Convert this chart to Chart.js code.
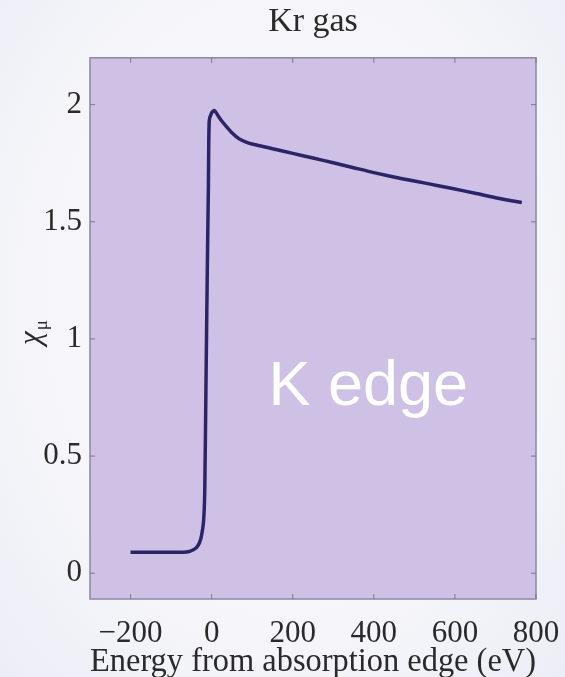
<!DOCTYPE html>
<html>
<head>
<meta charset="utf-8">
<title>Kr gas</title>
<script src="https://cdn.jsdelivr.net/npm/chart.js@4.4.1/dist/chart.umd.min.js"></script>
<style>
  html, body { margin: 0; padding: 0; }
  body {
    width: 565px; height: 677px; overflow: hidden;
    background: radial-gradient(ellipse at 50% 45%, #fbfbfd 0%, #f6f6fa 60%, #eceef6 100%);
  }
  #wrap { position: relative; width: 565px; height: 677px; }
</style>
</head>
<body>
<div id="wrap"><canvas id="chart"></canvas></div>
<script>
// Absorption spectrum of krypton gas around the K edge
const energy = [-200, -150, -100, -70, -55, -45, -37, -30, -25, -20, -17, -14, -11, -8, -6, 0, 7, 15, 25, 37, 50, 67, 85, 100, 150, 200, 250, 300, 350, 400, 470, 530, 594, 650, 700, 765];
const chiMu  = [0.09, 0.09, 0.09, 0.09, 0.093, 0.10, 0.11, 0.13, 0.16, 0.22, 0.35, 0.80, 1.25, 1.65, 1.93, 1.965, 1.975, 1.955, 1.93, 1.905, 1.88, 1.855, 1.84, 1.832, 1.812, 1.792, 1.772, 1.752, 1.731, 1.71, 1.684, 1.664, 1.642, 1.622, 1.603, 1.582];

const xTickValues = [-200, 0, 200, 400, 600, 800];
const yTickValues = [0, 0.5, 1, 1.5, 2];

const chartTitle = 'Kr gas';
const xAxisTitle = 'Energy from absorption edge (eV)';
const yAxisSymbol = 'χ';
const yAxisSubscript = 'μ';
const edgeLabel = 'K edge';
const edgeLabelAt = { x: 140, y: 0.72 };

const SERIF = '"Liberation Serif", "Times New Roman", "DejaVu Serif", serif';
const SANS = '"Liberation Sans", Arial, sans-serif';
const TEXT = '#2a2a2a';

const points = energy.map((e, i) => ({ x: e, y: chiMu[i] }));

function fmt(v) {
  return v < 0 ? '\u2212' + Math.abs(v) : String(v);
}

// Plot panel: filled background, frame and inward tick marks on all sides
const panelPlugin = {
  id: 'panel',
  beforeDatasetsDraw(chart) {
    const { ctx, chartArea: a } = chart;
    ctx.save();
    ctx.fillStyle = 'rgb(206,193,229)';
    ctx.fillRect(a.left, a.top, a.right - a.left, a.bottom - a.top);
    ctx.restore();
  },
  afterDatasetsDraw(chart) {
    const { ctx, chartArea: a, scales } = chart;
    ctx.save();
    ctx.strokeStyle = '#8c86a0';
    ctx.lineWidth = 1.5;
    ctx.strokeRect(a.left, a.top, a.right - a.left, a.bottom - a.top);
    ctx.lineWidth = 1;
    ctx.strokeStyle = '#7d7790';
    const len = 5;
    ctx.beginPath();
    xTickValues.forEach(v => {
      const px = scales.x.getPixelForValue(v);
      ctx.moveTo(px, a.bottom); ctx.lineTo(px, a.bottom - len);
      ctx.moveTo(px, a.top); ctx.lineTo(px, a.top + len);
    });
    yTickValues.forEach(v => {
      const py = scales.y.getPixelForValue(v);
      ctx.moveTo(a.left, py); ctx.lineTo(a.left + len, py);
      ctx.moveTo(a.right, py); ctx.lineTo(a.right - len, py);
    });
    ctx.stroke();
    ctx.restore();
  },
  afterDraw(chart) {
    const { ctx, scales } = chart;
    // Edge annotation
    ctx.save();
    ctx.fillStyle = '#ffffff';
    ctx.font = '63px ' + SANS;
    ctx.textAlign = 'left';
    ctx.textBaseline = 'alphabetic';
    ctx.fillText(edgeLabel, scales.x.getPixelForValue(edgeLabelAt.x), scales.y.getPixelForValue(edgeLabelAt.y));
    ctx.restore();

    // Rotated y-axis symbol with subscript
    ctx.save();
    ctx.translate(40, 345);
    ctx.rotate(-Math.PI / 2);
    ctx.fillStyle = TEXT;
    ctx.textAlign = 'left';
    ctx.textBaseline = 'alphabetic';
    ctx.font = 'italic 31px ' + SERIF;
    ctx.fillText(yAxisSymbol, 0, 0);
    const w = ctx.measureText(yAxisSymbol).width;
    ctx.font = '19px ' + SERIF;
    ctx.fillText(yAxisSubscript, w + 1, 7);
    ctx.restore();
  }
};

new Chart(document.getElementById('chart'), {
  type: 'line',
  data: {
    datasets: [{
      data: points,
      borderColor: '#2b2466',
      borderWidth: 3.5,
      pointRadius: 0,
      tension: 0.2,
      fill: false
    }]
  },
  options: {
    responsive: true,
    maintainAspectRatio: false,
    animation: false,
    layout: { padding: { left: 0, right: 29, top: 0, bottom: 0 } },
    plugins: {
      legend: { display: false },
      tooltip: { enabled: false },
      title: {
        display: true,
        fullSize: false,
        text: chartTitle,
        color: TEXT,
        font: { family: SERIF, size: 34, weight: 'normal' },
        padding: { top: 2, bottom: 15 }
      }
    },
    scales: {
      x: {
        type: 'linear',
        min: -300,
        max: 800,
        grid: { display: false },
        border: { display: false },
        afterBuildTicks: s => { s.ticks = xTickValues.map(v => ({ value: v })); },
        afterFit: s => { s.height = 78; s.paddingLeft = 0; s.paddingRight = 0; },
        ticks: {
          color: TEXT,
          font: { family: SERIF, size: 31 },
          padding: 8,
          maxRotation: 0,
          autoSkip: false,
          callback: v => fmt(v)
        },
        title: {
          display: true,
          text: xAxisTitle,
          color: TEXT,
          font: { family: SERIF, size: 34, lineHeight: 1.0 },
          padding: { top: 0, bottom: -2 }
        }
      },
      y: {
        min: -0.11,
        max: 2.2,
        grid: { display: false },
        border: { display: false },
        afterBuildTicks: s => { s.ticks = yTickValues.map(v => ({ value: v })); },
        afterFit: s => { s.width = 90; },
        ticks: {
          color: TEXT,
          font: { family: SERIF, size: 31 },
          padding: 0,
          callback: v => fmt(v)
        }
      }
    }
  },
  plugins: [panelPlugin]
});
</script>
</body>
</html>
